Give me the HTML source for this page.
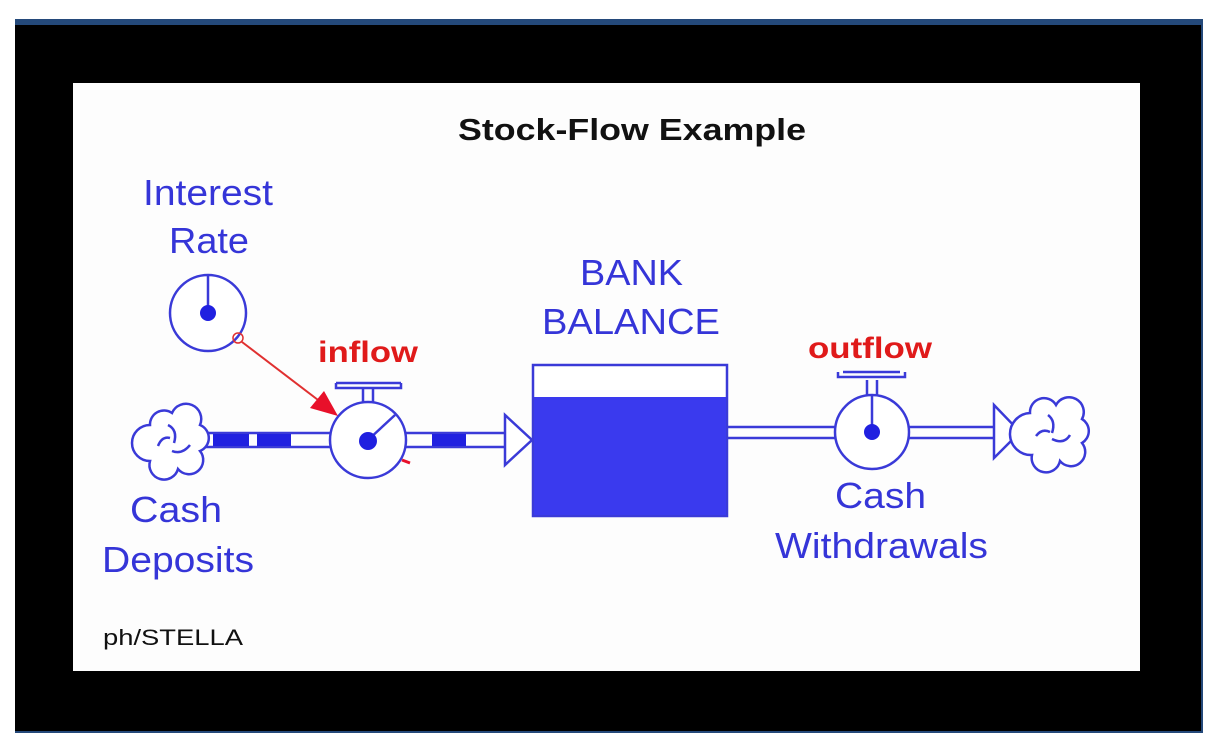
<!DOCTYPE html>
<html><head><meta charset="utf-8"><style>
html,body{margin:0;padding:0;background:#fff;width:1218px;height:750px;overflow:hidden}
</style></head><body>
<svg width="1218" height="750" viewBox="0 0 1218 750" xmlns="http://www.w3.org/2000/svg" font-family="Liberation Sans, Arial, sans-serif">
<rect x="0" y="0" width="1218" height="750" fill="#fff"/>
<rect x="15" y="19" width="1188" height="714" fill="#24497a"/>
<rect x="15" y="25" width="1186" height="706" fill="#000"/>
<rect x="73" y="83" width="1067" height="588" fill="#fdfdfd"/>

<text x="458" y="140" font-size="31" font-weight="bold" fill="#111" textLength="348" lengthAdjust="spacingAndGlyphs">Stock-Flow Example</text>

<g fill="#3535d8" font-size="36">
<text x="143" y="205" textLength="130" lengthAdjust="spacingAndGlyphs">Interest</text>
<text x="169" y="253" textLength="80" lengthAdjust="spacingAndGlyphs">Rate</text>
<text x="580" y="285" textLength="103" lengthAdjust="spacingAndGlyphs">BANK</text>
<text x="542" y="334" textLength="178" lengthAdjust="spacingAndGlyphs">BALANCE</text>
<text x="130" y="522" textLength="92" lengthAdjust="spacingAndGlyphs">Cash</text>
<text x="102" y="572" textLength="152" lengthAdjust="spacingAndGlyphs">Deposits</text>
<text x="835" y="508" textLength="91" lengthAdjust="spacingAndGlyphs">Cash</text>
<text x="775" y="558" textLength="213" lengthAdjust="spacingAndGlyphs">Withdrawals</text>
</g>
<g fill="#e01a1a" font-size="30" font-weight="bold">
<text x="318" y="362" textLength="100" lengthAdjust="spacingAndGlyphs">inflow</text>
<text x="580" y="390" textLength="90" lengthAdjust="spacingAndGlyphs">stock</text>
<text x="808" y="358" textLength="124" lengthAdjust="spacingAndGlyphs">outflow</text>
</g>
<text x="103" y="645" font-size="22" fill="#111" textLength="140" lengthAdjust="spacingAndGlyphs">ph/STELLA</text>

<g stroke="#3a3ad8" stroke-width="2.5" fill="none">
<circle cx="208" cy="313" r="38" fill="#fff"/>
<line x1="208" y1="313" x2="208" y2="275"/>
<line x1="205" y1="433" x2="332" y2="433"/>
<line x1="205" y1="447" x2="332" y2="447"/>
<line x1="405" y1="433" x2="505" y2="433"/>
<line x1="405" y1="447" x2="505" y2="447"/>
<polygon points="505,433 505,415 532,440 505,465 505,447" fill="#fff"/>
<circle cx="368" cy="440" r="38" fill="#fff"/>
<line x1="368" y1="440" x2="395" y2="415"/>
<line x1="363" y1="402" x2="363" y2="388"/>
<line x1="373" y1="402" x2="373" y2="388"/>
<line x1="336" y1="383" x2="401" y2="383"/>
<path d="M336,383 V388 H401 V383"/>
<line x1="727" y1="427" x2="836" y2="427"/>
<line x1="727" y1="438" x2="836" y2="438"/>
<line x1="908" y1="427" x2="994" y2="427"/>
<line x1="908" y1="438" x2="994" y2="438"/>
<polygon points="994,427 994,405 1020,432 994,458 994,438" fill="#fff"/>
<circle cx="872" cy="432" r="37" fill="#fff"/>
<line x1="872" y1="432" x2="872" y2="395"/>
<line x1="867" y1="395" x2="867" y2="380"/>
<line x1="877" y1="395" x2="877" y2="380"/>
<path d="M838,372 V377 H905 V372"/>
<line x1="843" y1="372" x2="900" y2="372"/>
<rect x="533" y="365" width="194" height="151" fill="#fff"/>
</g>
<rect x="534" y="397" width="192" height="118" fill="#3a3aee"/>
<g fill="#2020e0">
<circle cx="208" cy="313" r="8"/>
<circle cx="368" cy="441" r="9"/>
<circle cx="872" cy="432" r="8"/>
<rect x="213" y="434" width="36" height="12"/>
<rect x="257" y="434" width="34" height="12"/>
<rect x="432" y="434" width="34" height="12"/>
</g>
<g stroke="#3a3ad8" stroke-width="2.5" fill="#fff">
<path d="M150,425 a14,14 0 0 1 22,-12 a14,14 0 0 1 28,12 a14,14 0 0 1 0,26 a14,14 0 0 1 -22,18 a14,14 0 0 1 -28,-8 a14,14 0 0 1 0,-36z"/>
<path d="M168,425 q10,5 6,18 M190,445 q-8,10 -18,6 M158,446 q4,-10 12,-8" fill="none"/>
<path d="M1030,413 a14,14 0 0 1 26,-8 a14,14 0 0 1 26,14 a14,14 0 0 1 0,24 a14,14 0 0 1 -22,18 a14,14 0 0 1 -28,-6 a14,14 0 0 1 -2,-42z"/>
<path d="M1048,415 q8,6 4,18 M1070,435 q-6,10 -18,4 M1036,436 q6,-8 14,-4" fill="none"/>
</g>
<circle cx="238" cy="338" r="5" fill="none" stroke="#e03030" stroke-width="1.5"/>
<line x1="242" y1="342" x2="322" y2="403" stroke="#e03030" stroke-width="2"/>
<polygon points="338,416 310,408 324,391" fill="#e8102a"/>
<path d="M402,460 l8,3" stroke="#e8102a" stroke-width="3"/>
</svg>
</body></html>
